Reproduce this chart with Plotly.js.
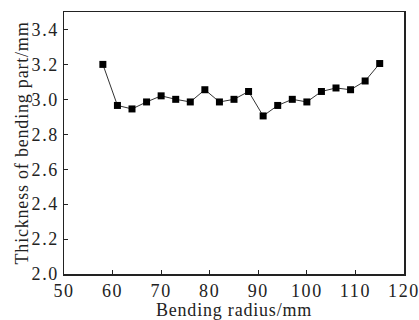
<!DOCTYPE html>
<html><head><meta charset="utf-8">
<script src="https://cdn.plot.ly/plotly-3.0.1.min.js"></script>
<style>html,body{margin:0;padding:0;background:#fff;} .main-svg text{letter-spacing:0.8px;} .main-svg .xtick text, .main-svg .ytick text{letter-spacing:1.6px;}</style>
</head><body>
<div id="chart" style="width:419px;height:320px;"></div>
<script>
const radius = [58, 61, 64, 67, 70, 73, 76, 79, 82, 85, 88, 91, 94, 97, 100, 103, 106, 109, 112, 115];
const thickness = [3.20, 2.965, 2.945, 2.985, 3.02, 3.00, 2.985, 3.055, 2.985, 3.00, 3.045, 2.905, 2.965, 3.00, 2.985, 3.045, 3.065, 3.055, 3.105, 3.205];
const xTicks = [50, 60, 70, 80, 90, 100, 110, 120];
const yTicks = [2.0, 2.2, 2.4, 2.6, 2.8, 3.0, 3.2, 3.4];
const font = 'Liberation Serif, Times New Roman, serif';
Plotly.newPlot('chart', [{
  x: radius, y: thickness, type: 'scatter', mode: 'lines+markers',
  line: {color: '#333', width: 1},
  marker: {symbol: 'square', size: 7, color: '#000'}
}], {
  width: 419, height: 320,
  margin: {l: 64, r: 15, t: 12, b: 46},
  paper_bgcolor: '#fff', plot_bgcolor: '#fff',
  showlegend: false,
  font: {family: font, color: '#222', size: 18},
  xaxis: {
    range: [50, 120], tickvals: xTicks, ticktext: xTicks.map(String),
    ticks: 'inside', ticklen: 4, tickcolor: '#222', showgrid: false, zeroline: false,
    showline: true, linecolor: '#222', linewidth: 1.5, mirror: true,
    tickfont: {family: font, size: 18, color: '#222'},
    title: {text: 'Bending radius/mm', font: {family: font, size: 18, color: '#222'}, standoff: 0}
  },
  yaxis: {
    range: [2.0, 3.5], tickvals: yTicks, ticktext: yTicks.map(v => v.toFixed(1)),
    ticks: 'inside', ticklen: 4, tickcolor: '#222', showgrid: false, zeroline: false,
    showline: true, linecolor: '#222', linewidth: 1.5, mirror: true,
    tickfont: {family: font, size: 18, color: '#222'},
    title: {text: 'Thickness of bending part/mm', font: {family: font, size: 18, color: '#222'}, standoff: 3}
  }
}, {displayModeBar: false, staticPlot: true});
</script>
</body></html>
